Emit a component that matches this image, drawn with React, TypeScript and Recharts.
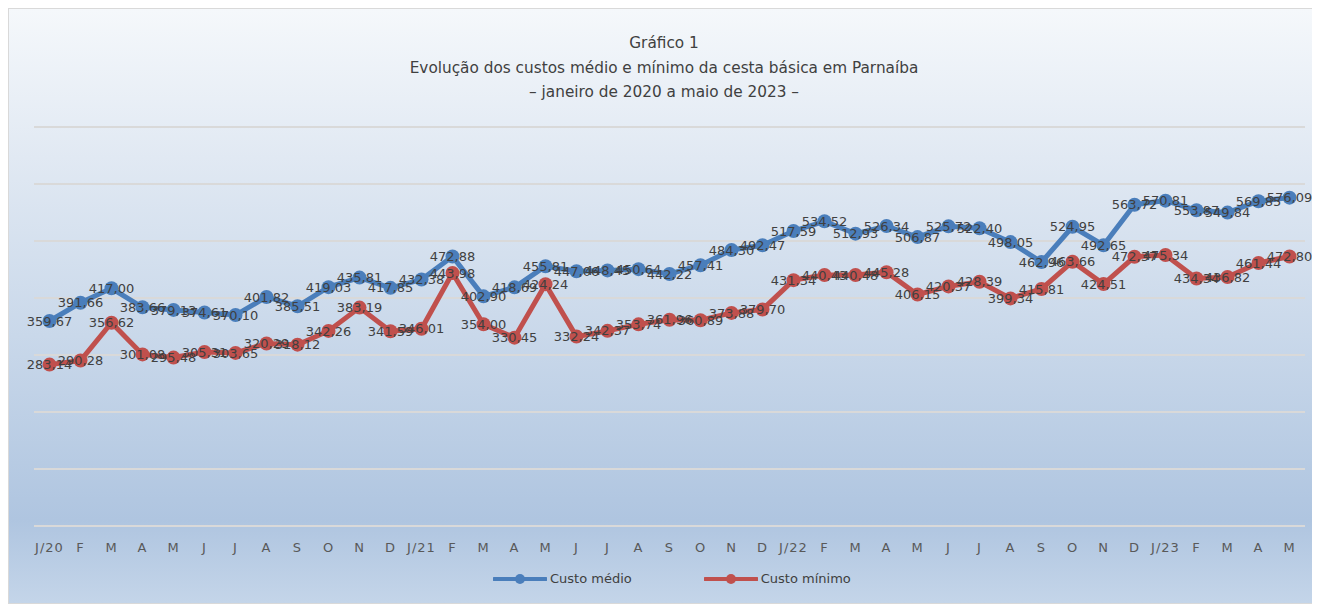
import { LineChart, Line, XAxis, YAxis, CartesianGrid, LabelList } from "recharts"

const months = [
  "J/20", "F", "M", "A", "M", "J", "J", "A", "S", "O", "N", "D",
  "J/21", "F", "M", "A", "M", "J", "J", "A", "S", "O", "N", "D",
  "J/22", "F", "M", "A", "M", "J", "J", "A", "S", "O", "N", "D",
  "J/23", "F", "M", "A", "M",
]

const custoMedio = [
  359.67, 391.66, 417.0, 383.66, 379.13, 374.61, 370.1, 401.82, 385.51, 419.03, 435.81, 417.85,
  432.38, 472.88, 402.9, 418.69, 455.81, 447.06, 448.45, 450.64, 442.22, 457.41, 484.3, 492.47,
  517.59, 534.52, 512.93, 526.34, 506.87, 525.72, 522.4, 498.05, 462.96, 524.95, 492.65, 563.72,
  570.81, 553.87, 549.84, 569.85, 576.09,
]

const custoMinimo = [
  283.14, 290.28, 356.62, 301.08, 295.48, 305.31, 303.65, 320.29, 318.12, 342.26, 383.19, 341.59,
  346.01, 443.98, 354.0, 330.45, 424.24, 332.24, 342.37, 353.74, 361.96, 360.89, 373.88, 379.7,
  431.34, 440.43, 440.48, 445.28, 406.15, 420.37, 428.39, 399.34, 415.81, 463.66, 424.51, 472.37,
  475.34, 434.34, 436.82, 461.44, 472.8,
]

const yTicks = [0, 100, 200, 300, 400, 500, 600, 700]

const data = months.map((m, i) => ({
  key: i,
  mes: m,
  medio: custoMedio[i],
  minimo: custoMinimo[i],
}))

const BLUE = "#4a7ebb"
const RED = "#c0504d"
const FONT = "'DejaVu Sans', sans-serif"

function formatBR(v: any) {
  return Number(v).toFixed(2).replace(".", ",")
}

function LegendItem({ color, label }: { color: string; label: string }) {
  return (
    <div style={{ display: "flex", alignItems: "center" }}>
      <svg width={54} height={14}>
        <line x1={1} y1={7} x2={53} y2={7} stroke={color} strokeWidth={4} strokeLinecap="round" />
        <circle cx={27} cy={7} r={5} fill={color} />
      </svg>
      <span style={{ marginLeft: 3, fontSize: 13, color: "#404040" }}>{label}</span>
    </div>
  )
}

export default function App() {
  return (
    <div
      style={{
        position: "relative",
        width: 1312,
        height: 596,
        boxSizing: "border-box",
        border: "1px solid #d9d9d9",
        background:
          "linear-gradient(180deg, #f5f8fb 0%, #e1e9f3 25%, #c9d8ea 55%, #afc5e0 86%, #c4d5e9 100%)",
        fontFamily: FONT,
      }}
    >
      <div
        style={{
          position: "absolute",
          top: 22,
          left: 0,
          width: "100%",
          textAlign: "center",
          fontSize: 15.3,
          lineHeight: "24.5px",
          color: "#404040",
        }}
      >
        <div>Gráfico 1</div>
        <div>Evolução dos custos médio e mínimo da cesta básica em Parnaíba</div>
        <div>– janeiro de 2020 a maio de 2023 –</div>
      </div>

      <LineChart
        width={1310}
        height={594}
        data={data}
        margin={{ top: 118, right: 14, left: 25, bottom: 47 }}
      >
        <CartesianGrid vertical={false} stroke="#d9d9d9" strokeWidth={2} />
        <XAxis
          dataKey="key"
          scale="band"
          tickFormatter={(i: number) => months[i]}
          interval={0}
          axisLine={false}
          tickLine={false}
          height={30}
          tick={{ fontSize: 13, fill: "#595959", fontFamily: FONT, letterSpacing: 1 }}
          dy={9}
        />
        <YAxis hide domain={[0, 700]} ticks={yTicks} />
        <Line
          dataKey="medio"
          stroke={BLUE}
          strokeWidth={5}
          dot={{ r: 7, fill: BLUE, stroke: BLUE, strokeWidth: 0 }}
          isAnimationActive={false}
        >
          <LabelList
            dataKey="medio"
            position="center"
            formatter={formatBR}
            style={{ fontSize: 13, fill: "#404040", fontFamily: FONT }}
          />
        </Line>
        <Line
          dataKey="minimo"
          stroke={RED}
          strokeWidth={5}
          dot={{ r: 7, fill: RED, stroke: RED, strokeWidth: 0 }}
          isAnimationActive={false}
        >
          <LabelList
            dataKey="minimo"
            position="center"
            formatter={formatBR}
            style={{ fontSize: 13, fill: "#404040", fontFamily: FONT }}
          />
        </Line>
      </LineChart>

      <div
        style={{
          position: "absolute",
          top: 562,
          left: 484,
          display: "flex",
          gap: 72,
        }}
      >
        <LegendItem color={BLUE} label="Custo médio" />
        <LegendItem color={RED} label="Custo mínimo" />
      </div>
    </div>
  )
}
